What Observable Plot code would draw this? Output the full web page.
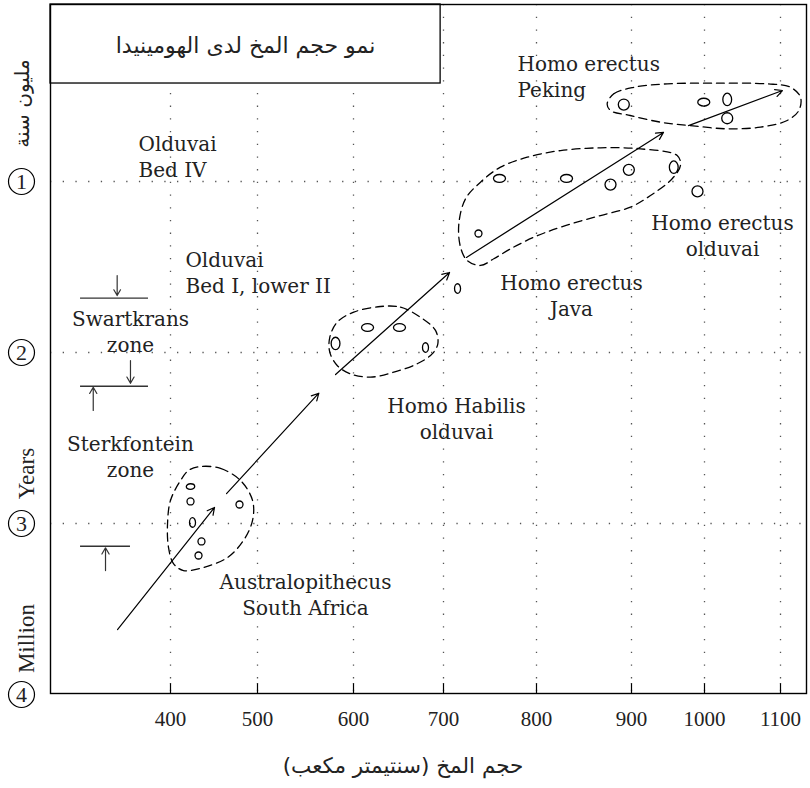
<!DOCTYPE html>
<html><head><meta charset="utf-8">
<script src="https://cdn.jsdelivr.net/npm/d3@7"></script>
<script src="https://cdn.jsdelivr.net/npm/@observablehq/plot@0.6"></script>
<style>body{margin:0;background:#fff}</style>
</head><body><div id="chart"></div>
<script>
// ---- axis ticks ----
const xTicks = [400, 500, 600, 700, 800, 900, 1000, 1100];   // brain size (cc)
const yTicks = [1, 2, 3, 4];                                   // million years ago

// ---- specimens (brain size cc, million years ago, marker kind) ----
const australopithecus = [
  {x: 423.0, y: 2.784, kind: "hs"}, {x: 423.0, y: 2.871, kind: "s"},
  {x: 425.3, y: 2.994, kind: "vs"}, {x: 435.6, y: 3.105, kind: "s"},
  {x: 432.2, y: 3.187, kind: "s"},  {x: 479.3, y: 2.889, kind: "s"}
];
const habilis = [
  {x: 581.3, y: 1.947, kind: "v"}, {x: 615.6, y: 1.854, kind: "h"},
  {x: 651.1, y: 1.854, kind: "h"}, {x: 680.0, y: 1.971, kind: "vs"},
  {x: 715.1, y: 1.626, kind: "vs"}
];
const erectusJava = [
  {x: 737.6, y: 1.304, kind: "s"}, {x: 760.2, y: 0.982, kind: "h"},
  {x: 831.6, y: 0.982, kind: "h"}, {x: 877.9, y: 1.018, kind: "o"},
  {x: 897.2, y: 0.932, kind: "o"}, {x: 957.9, y: 0.916, kind: "v"}
];
const erectusOlduvai = [{x: 990.4, y: 1.058, kind: "o"}];
const erectusPeking = [
  {x: 891.9, y: 0.550, kind: "o"}, {x: 999.0, y: 0.536, kind: "h"},
  {x: 1029.9, y: 0.520, kind: "v"}, {x: 1029.9, y: 0.630, kind: "o"}
];

// ---- dashed group outlines ----
const australopithecusHull = [[434.5,2.667],[457.5,2.678],[480.5,2.749],[494.3,2.865],[494.3,2.982],[483.9,3.099],[465.5,3.199],[437.9,3.257],[414.9,3.275],[403.4,3.234],[397.7,3.140],[396.6,3.000],[400.0,2.865],[411.5,2.749],[420.7,2.690]];
const habilisHull = [[630.0,1.731],[652.2,1.735],[674.4,1.794],[691.1,1.871],[693.7,1.949],[687.4,2.008],[670.8,2.066],[644.8,2.115],[618.9,2.144],[596.9,2.125],[583.0,2.076],[575.3,1.998],[575.3,1.911],[583.0,1.823],[600.3,1.764]];
const javaHull = [[962.6,0.848],[967.1,0.906],[955.7,0.984],[926.0,1.082],[898.9,1.150],[867.4,1.199],[825.3,1.267],[797.1,1.326],[772.0,1.394],[754.1,1.452],[739.8,1.491],[725.5,1.462],[718.3,1.384],[716.5,1.247],[723.7,1.101],[739.8,1.004],[761.3,0.916],[790.0,0.858],[825.3,0.819],[867.4,0.803],[912.3,0.809]];
const pekingHull = [[874.4,0.546],[881.4,0.487],[903.2,0.449],[948.9,0.429],[1016.7,0.425],[1082.5,0.429],[1113.2,0.449],[1126.3,0.507],[1124.1,0.585],[1108.8,0.643],[1073.7,0.682],[1029.9,0.692],[980.8,0.673],[939.7,0.653],[898.6,0.614],[877.9,0.585]];

// ---- trend arrows ----
const trendArrows = [
  {x1: 339.1, y1: 3.620, x2: 450.6, y2: 2.906},
  {x1: 464.4, y1: 2.825, x2: 563.9, y2: 2.238},
  {x1: 581.3, y1: 2.129, x2: 706.5, y2: 1.532},
  {x1: 724.7, y1: 1.444, x2: 943.8, y2: 0.713},
  {x1: 978.1, y1: 0.673, x2: 1102.6, y2: 0.468}
];

// ---- site zones (left) ----
const zoneLines = [
  {y: 1.682, x1: 296.6, x2: 374.7},
  {y: 2.197, x1: 296.6, x2: 374.7},
  {y: 3.133, x1: 296.6, x2: 354.0}
];
const zoneArrows = [
  {x: 338.7, y1: 1.550, y2: 1.667},
  {x: 354.0, y1: 2.047, y2: 2.180},
  {x: 311.2, y1: 2.339, y2: 2.203},
  {x: 325.3, y1: 3.275, y2: 3.142}
];

// ---- labels ----
const leftLabels = [
  {text: "Olduvai\nBed IV", x: 363.2, y: 0.848},
  {text: "Olduvai\nBed I, lower II", x: 417.2, y: 1.529},
  {text: "Homo erectus\nPeking", x: 779.6, y: 0.383}
];
const centerLabels = [
  {text: "Swartkrans\nzone", x: 354.0, y: 1.871},
  {text: "Sterkfontein\nzone", x: 354.0, y: 2.602},
  {text: "Australopithecus\nSouth Africa", x: 550.0, y: 3.412},
  {text: "Homo Habilis\nolduvai", x: 714.0, y: 2.383},
  {text: "Homo erectus\nJava", x: 836.8, y: 1.664},
  {text: "Homo erectus\nolduvai", x: 1023.7, y: 1.313}
];
const titleText = "نمو حجم المخ لدى الهومينيدا";
const titleBox = [{x1: 262.1, x2: 696.8, y1: -0.035, y2: 0.427, tx: 486.2, ty: 0.205}];
const xLabel = "\u200Fحجم المخ (سنتيمتر مكعب)\u200F";
const xLabelPos = 655;
const yLabels = [
  {text: "مليون سنة", y: 0.544, arabic: true},
  {text: "Years", y: 2.708, arabic: false},
  {text: "Million", y: 3.673, arabic: false}
];

// ---- build ----
const specimens = [...australopithecus, ...habilis, ...erectusJava, ...erectusOlduvai, ...erectusPeking];
const hulls = [
  ...australopithecusHull.map(([x, y]) => ({x, y, g: "a"})),
  ...habilisHull.map(([x, y]) => ({x, y, g: "h"})),
  ...javaHull.map(([x, y]) => ({x, y, g: "j"})),
  ...pekingHull.map(([x, y]) => ({x, y, g: "p"}))
];
// the original drawing's brain-size axis is unevenly spaced: piecewise-linear warp
const xWarp = d3.scaleLinear().domain(xTicks).range([170, 257, 353, 443, 536, 631, 704, 780]);
const markerShapes = {o: [5.5, 5.5], s: [3.5, 3.5], h: [6, 3.9], hs: [4.2, 2.8], v: [4.4, 6.2], vs: [3, 4.8]};
function ellipseSymbol(rx, ry) {
  const k = 0.5523;
  return {draw(c) {
    c.moveTo(rx, 0);
    c.bezierCurveTo(rx, k * ry, k * rx, ry, 0, ry);
    c.bezierCurveTo(-k * rx, ry, -rx, k * ry, -rx, 0);
    c.bezierCurveTo(-rx, -k * ry, -k * rx, -ry, 0, -ry);
    c.bezierCurveTo(k * rx, -ry, rx, -k * ry, rx, 0);
    c.closePath();
  }};
}
const tickUp = {draw(c, l) { c.moveTo(0, 0); c.lineTo(0, -l); }};
const ink = "#222";
const serif = "DejaVu Serif";
const arabicFont = "DejaVu Sans";

const chart = Plot.plot({
  width: 810,
  height: 788,
  marginLeft: 50,
  marginRight: 4,
  marginTop: 4,
  marginBottom: 95,
  style: {fontFamily: serif, fontSize: "20px", color: ink, background: "white"},
  x: {type: "linear", transform: v => xWarp(v), domain: [50, 806], range: [50, 806], axis: null},
  y: {domain: [1, 4], range: [181, 694], axis: null},
  marks: [
    Plot.ruleX(xTicks, {stroke: "#555", strokeWidth: 1.3, strokeDasharray: "1.3,11.4"}),
    Plot.ruleY(yTicks.slice(0, 3), {stroke: "#555", strokeWidth: 1.3, strokeDasharray: "1.3,11.4"}),
    Plot.rect(titleBox, {x1: "x1", x2: "x2", y1: "y1", y2: "y2", fill: "white", stroke: "black", strokeWidth: 1.3}),
    Plot.text(titleBox, {x: "tx", y: "ty", text: () => titleText, fontFamily: arabicFont, fontSize: 22, fill: ink}),
    Plot.line(hulls, {x: "x", y: "y", z: "g", curve: "catmull-rom-closed", stroke: "black", strokeWidth: 1.3, strokeDasharray: "8,5"}),
    ...Object.entries(markerShapes).map(([k, [rx, ry]]) =>
      Plot.dot(specimens.filter(d => d.kind === k), {x: "x", y: "y", symbol: ellipseSymbol(rx, ry), stroke: "black", strokeWidth: 1.3, fill: "none"})),
    Plot.arrow(trendArrows, {x1: "x1", y1: "y1", x2: "x2", y2: "y2", stroke: "black", strokeWidth: 1.2, headLength: 10, headAngle: 55}),
    Plot.ruleY(zoneLines, {y: "y", x1: "x1", x2: "x2", stroke: "#333", strokeWidth: 1.4}),
    Plot.arrow(zoneArrows, {x1: "x", x2: "x", y1: "y1", y2: "y2", stroke: "#333", strokeWidth: 1.2, headLength: 9, headAngle: 60}),
    Plot.text(leftLabels, {x: "x", y: "y", text: "text", textAnchor: "start", lineHeight: 1.3, fill: ink, fontSize: 20}),
    Plot.text(centerLabels, {x: "x", y: "y", text: "text", textAnchor: "middle", lineHeight: 1.3, fill: ink, fontSize: 20}),
    Plot.frame({stroke: "black", strokeWidth: 1.4}),
    Plot.vector(xTicks, {x: d => d, frameAnchor: "bottom", anchor: "start", length: 10, shape: tickUp, stroke: "black", strokeWidth: 1.2}),
    Plot.text(xTicks, {x: d => d, frameAnchor: "bottom", dy: 32, text: d => String(d), fontFamily: "Liberation Serif", fontSize: 21, fill: ink}),
    Plot.text([xLabel], {x: () => xLabelPos, frameAnchor: "bottom", dy: 79, text: d => d, fontFamily: arabicFont, fontSize: 21.5, fill: ink}),
    Plot.dot(yTicks, {y: d => d, frameAnchor: "left", dx: -29, r: 13, stroke: "black", strokeWidth: 1.2, fill: "white"}),
    Plot.text(yTicks, {y: d => d, frameAnchor: "left", dx: -29, textAnchor: "middle", text: d => String(d), fontFamily: "Liberation Serif", fontSize: 22, fill: ink}),
    Plot.text(yLabels.filter(d => !d.arabic), {y: "y", text: "text", frameAnchor: "left", dx: -24, textAnchor: "middle", rotate: -90, fontFamily: "Liberation Serif", fontSize: 23, fill: ink}),
    Plot.text(yLabels.filter(d => d.arabic), {y: "y", text: "text", frameAnchor: "left", dx: -28, textAnchor: "middle", rotate: -90, fontFamily: arabicFont, fontSize: 20, fill: ink})
  ]
});
document.getElementById("chart").appendChild(chart);
</script></body></html>
